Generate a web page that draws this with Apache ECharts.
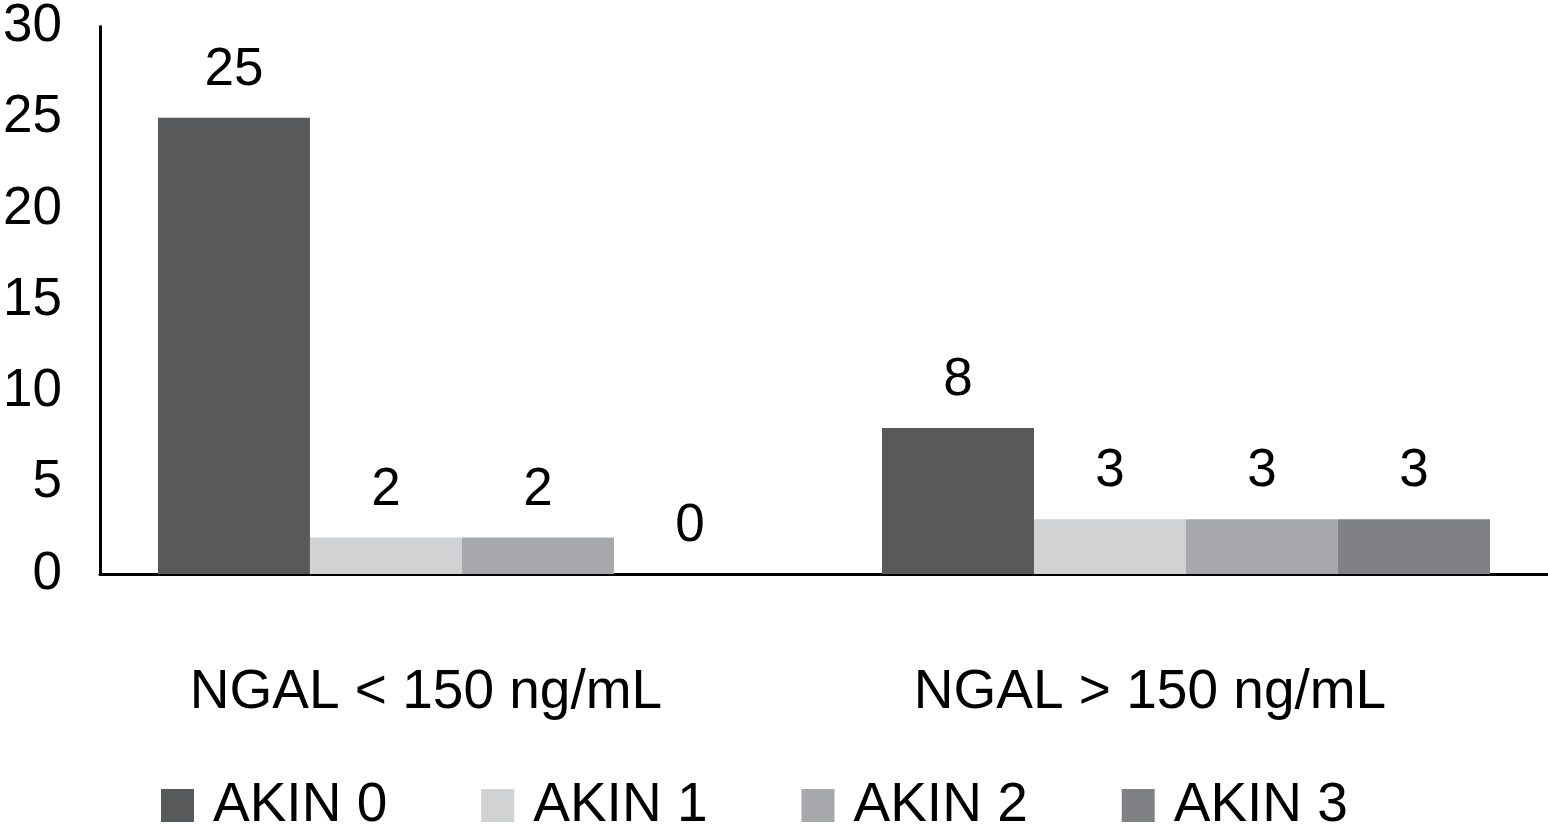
<!DOCTYPE html>
<html><head><meta charset="utf-8">
<script src="https://cdn.jsdelivr.net/npm/echarts@6/dist/echarts.min.js"></script>
<style>html,body{margin:0;padding:0;background:#fff}#c{width:1548px;height:831px}</style>
</head><body><div id="c"></div>
<script>
var categories = ['NGAL < 150 ng/mL', 'NGAL > 150 ng/mL'];
var seriesNames = ['AKIN 0', 'AKIN 1', 'AKIN 2', 'AKIN 3'];
var akin0 = [25, 8];
var akin1 = [2, 3];
var akin2 = [2, 3];
var akin3 = [0, 3];
var yTicks = [0, 5, 10, 15, 20, 25, 30];
var colors = ['#58595b', '#d1d2d4', '#a7a8ab', '#808184'];
var values = [akin0, akin1, akin2, akin3];
var font = 'Liberation Sans, Arial, Helvetica, sans-serif';
var FS = 53;
var chart = echarts.init(document.getElementById('c'));
chart.setOption({
  animation: false,
  textStyle: {fontFamily: font},
  grid: {left: 98, right: 0, top: 23, bottom: 257},
  legend: {
    top: 773, left: 156, itemWidth: 33, itemHeight: 33, itemGap: 94,
    icon: 'rect',
    textStyle: {fontSize: 55, color: '#000', fontFamily: font, padding: [0, 0, 0, 14]},
    data: seriesNames
  },
  xAxis: {
    type: 'category', data: categories,
    axisLine: {lineStyle: {color: '#000', width: 3}},
    axisTick: {show: false},
    axisLabel: {fontSize: 55, color: '#000', margin: 91, fontFamily: font, padding: [0, 72, 0, 0]}
  },
  yAxis: {
    type: 'value', min: 0, max: 30, interval: 5,
    axisLine: {show: true, lineStyle: {color: '#000', width: 3}},
    axisTick: {show: false},
    splitLine: {show: false},
    axisLabel: {fontSize: FS, color: '#000', margin: 38, fontFamily: font,
      formatter: function (v) { return yTicks.indexOf(v) >= 0 ? String(v) : ''; }}
  },
  series: seriesNames.map(function (n, i) {
    return {
      name: n, type: 'bar', data: values[i],
      barWidth: 152, barGap: '0%',
      itemStyle: {color: colors[i]},
      label: {show: true, position: 'top', distance: 21, fontSize: FS, color: '#000', fontFamily: font}
    };
  })
});
</script></body></html>
